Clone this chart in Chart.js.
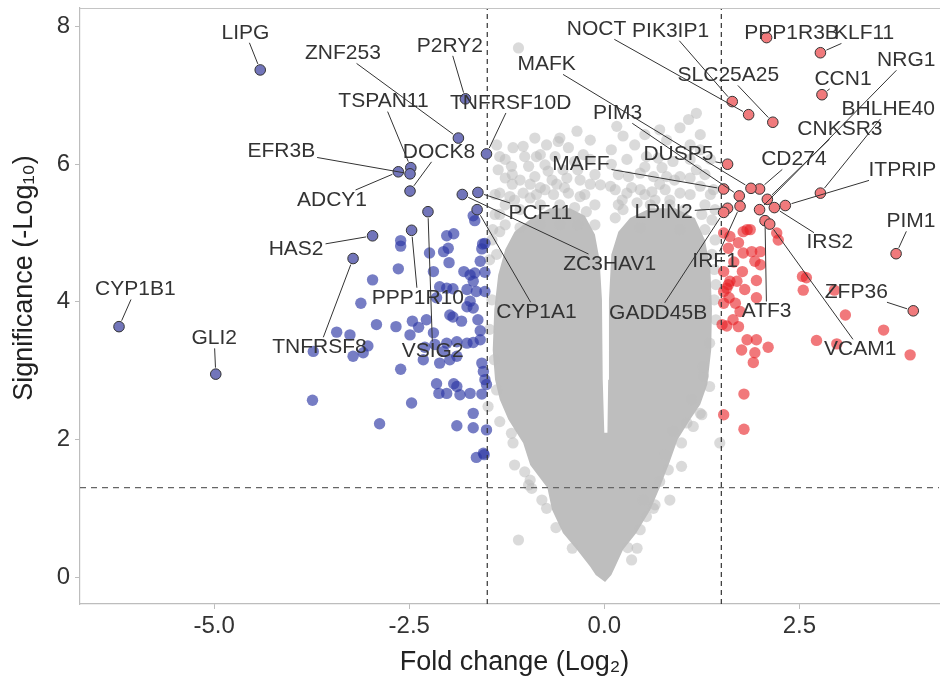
<!DOCTYPE html>
<html>
<head>
<meta charset="utf-8">
<script src="https://cdn.jsdelivr.net/npm/chart.js@4.4.1/dist/chart.umd.min.js"></script>
<style>
  html, body { margin: 0; padding: 0; background: #fff; }
  canvas { display: block; }
</style>
</head>
<body>
<canvas id="volcano" width="940" height="688"></canvas>
<script>
// axis setup
var xRange = [-6.72, 4.29];
var yRange = [-0.39, 8.27];
var xTicks = [-5, -2.5, 0, 2.5];
var yTicks = [0, 2, 4, 6, 8];
var fcCut = 1.5;
var sigCut = 1.3;
var xTitle = 'Fold change (Log\u2082)';
var yTitle = 'Significance (-Log\u2081\u2080)';

// labelled genes
var geneNames = ['LIPG','ZNF253','P2RY2','TSPAN11','EFR3B','ADCY1','DOCK8','TNFRSF10D','PCF11','ZC3HAV1',
  'CYP1A1','HAS2','TNFRSF8','PPP1R10','VSIG2','CYP1B1','GLI2',
  'NOCT','PIK3IP1','PPP1R3B','KLF11','SLC25A25','CCN1','NRG1','BHLHE40','CNKSR3','CD274','ITPRIP',
  'DUSP5','MAFK','PIM3','MAFF','LPIN2','IRF1','GADD45B','ATF3','IRS2','VCAM1','PIM1','ZFP36'];
var geneFC = [-4.41,-1.87,-1.78,-2.48,-2.49,-2.64,-2.49,-1.51,-1.62,-1.82,
  -1.63,-2.97,-3.22,-2.47,-2.26,-6.22,-4.98,
  1.85,1.64,2.08,2.77,2.16,2.79,1.99,2.77,2.09,1.99,2.32,
  1.58,1.88,1.73,1.53,1.58,1.74,1.53,2.06,2.18,2.12,3.74,3.96];
var geneSig = [7.37,6.38,6.95,5.95,5.86,5.89,5.61,6.15,5.59,5.56,
  5.34,4.96,4.63,5.04,5.31,3.64,2.95,
  6.72,6.91,7.84,7.62,6.61,7.01,5.34,5.58,5.49,5.64,5.40,
  6.00,5.65,5.54,5.64,5.36,5.39,5.30,5.18,5.37,5.13,4.70,3.87];
// where each name sits (repelled text)
var labelFC = [-4.60,-3.35,-1.98,-2.83,-4.14,-3.49,-2.12,-1.20,-0.82,0.07,
  -0.87,-3.95,-3.65,-2.39,-2.20,-6.01,-5.00,
  -0.10,0.85,2.40,3.33,1.59,3.06,3.87,3.64,3.02,2.43,3.82,
  0.95,-0.74,0.17,-0.30,0.76,1.42,0.69,2.08,2.89,3.28,3.93,3.23];
var labelSig = [7.91,7.61,7.72,6.91,6.19,5.48,6.18,6.89,5.29,4.55,
  3.85,4.77,3.34,4.06,3.28,4.18,3.47,
  7.96,7.94,7.90,7.90,7.29,7.24,7.51,6.80,6.51,6.07,5.91,
  6.14,7.45,6.74,6.00,5.30,4.59,3.84,3.86,4.86,3.31,5.17,4.14];

// other down-regulated genes
var downFC = [-2.61,-2.61,-2.02,-1.93,-2.06,-2.00,-2.24,-1.56,-1.53,-1.57,-1.59,-1.99,-2.64,-2.19,-1.80,-1.72,-1.66,-1.68,-1.53,-2.97,
  -2.11,-2.02,-1.94,-1.76,-1.64,-1.53,-3.12,-2.15,-1.72,-1.76,-1.68,-1.98,-1.94,-1.83,-1.62,-2.92,-2.67,-2.46,-2.28,-2.38,
  -2.49,-2.19,-1.59,-3.43,-3.26,-3.03,-3.73,-3.22,-3.09,-2.30,-2.17,-2.06,-2.02,-1.89,-1.76,-1.68,-1.59,-2.32,-2.11,-1.98,
  -1.89,-1.57,-1.55,-1.53,-2.61,-2.15,-1.93,-1.89,-2.12,-2.02,-1.85,-1.72,-1.57,-1.51,-3.74,-2.47,-1.68,-2.88,-1.89,-1.68,
  -1.51,-1.55,-1.64,-1.68,-1.66,-1.54];
var downSig = [4.89,4.81,4.96,4.99,4.73,4.78,4.71,4.84,4.85,4.77,4.59,4.57,4.48,4.44,4.44,4.39,4.42,4.30,4.43,4.32,
  4.22,4.20,4.19,4.18,4.15,4.15,3.98,4.06,4.01,3.93,3.91,3.81,3.78,3.72,3.74,3.67,3.64,3.72,3.74,3.63,
  3.52,3.55,3.58,3.56,3.52,3.36,3.28,3.21,3.26,3.34,3.38,3.28,3.40,3.42,3.40,3.41,3.45,3.16,3.11,3.16,
  3.21,3.11,2.99,2.87,3.02,2.81,2.81,2.77,2.67,2.67,2.65,2.67,2.66,2.80,2.57,2.53,2.38,2.23,2.20,2.17,
  2.14,1.80,1.74,5.25,5.18,1.78];

// other up-regulated genes
var upFC = [1.61,1.72,1.78,1.87,1.59,1.78,1.89,2.00,1.93,2.00,2.23,1.53,1.61,1.70,1.57,1.53,1.80,1.95,1.95,1.68,
  1.74,1.65,1.57,1.72,1.53,1.51,1.83,1.95,2.10,1.76,1.93,1.91,2.54,2.59,2.55,3.09,2.72,2.98,3.58,3.92,
  1.79,1.53,1.79,2.95,2.21,1.83,1.53,1.66,1.77,1.60,1.59];
var upSig = [4.95,4.86,5.02,5.05,4.78,4.71,4.73,4.73,4.59,4.54,4.90,4.44,4.30,4.30,4.20,4.15,4.18,4.31,4.06,3.98,
  3.86,3.74,3.65,3.64,3.98,3.67,3.45,3.45,3.34,3.30,3.26,3.12,4.37,4.35,4.17,3.81,3.44,3.39,3.59,3.23,
  2.66,2.36,2.15,4.17,5.00,5.05,5.00,4.58,4.44,4.06,4.25];

// not significant: sparse points around the edge of the cloud
var nsFC = [-1.10,-0.35,-0.57,-0.89,0.24,0.16,1.18,1.08,0.97,0.71,-1.17,-1.04,-0.74,-0.46,-1.38,-1.34,-1.02,-0.87,-1.19,-0.97,
  -0.76,-0.53,-0.31,-1.27,-1.08,-0.89,-0.67,-0.48,0.29,0.54,0.69,0.88,0.31,0.46,0.63,0.80,0.97,1.18,1.36,0.29,
  0.46,1.40,1.23,0.24,0.42,-1.34,-1.21,-1.04,-0.87,-0.65,-0.46,-0.31,-0.23,-1.40,-1.27,-0.12,0.14,0.84,1.10,1.29,
  1.38,1.42,-1.44,-1.47,-1.10,0.84,0.99,0.99,1.25,1.48,0.54,0.63,0.35,0.42,0.71,-1.15,-1.02,-0.93,-0.74,-0.97,
  1.14,0.88,0.78,1.06,-1.49,-1.34,-1.17,-1.19,-0.95,0.50,1.35,1.27,1.23,1.12,1.27,1.35,1.41,1.43,1.41,-1.44,
  -1.47,-1.41,-1.38,-0.80,-0.62,-0.41,0.65,0.46,0.30,0.82,
  -1.27,-1.08,-0.82,-0.57,-0.38,-0.12,-0.82,-0.61,-0.18,-1.18,-0.18,-0.63,-0.38,-1.36,-0.18,-1.34,-1.38,
  0.14,0.61,0.78,0.97,0.65,0.18,1.23,1.10,0.39,0.09,0.71,1.42,1.38,1.43,-0.05,0.08,
  -1.34,-1.15,-0.95,-0.76,-0.51,-0.34,-0.12,-0.25,-0.72,-0.95,-1.18,-1.27,-0.82,-0.59,-0.27,-1.40,-1.43,-1.08,-0.34,-0.57,-0.82,
  0.23,0.52,0.71,0.90,1.10,1.29,1.36,1.25,1.03,0.84,0.59,0.35,0.52,0.74,1.10,1.23,0.80,0.52,0.09,0.18,0.46,1.29,0.97];
var nsSig = [7.69,6.48,6.38,6.38,6.41,6.55,6.74,6.65,6.53,6.50,6.24,6.26,6.28,6.24,6.28,6.11,6.11,6.11,5.97,5.97,
  5.99,5.92,5.77,5.80,5.77,5.82,5.77,5.80,6.07,6.11,6.09,6.04,5.82,5.87,5.82,5.82,5.82,5.92,6.07,5.58,
  5.63,5.63,5.68,5.34,5.44,5.58,5.53,5.58,5.56,5.56,5.58,5.53,5.31,5.27,5.12,5.12,5.22,5.48,5.56,5.41,
  5.19,4.90,4.90,4.61,0.54,1.12,1.61,1.95,2.36,1.95,0.88,1.00,0.25,0.42,1.39,1.63,1.53,1.29,1.00,1.34,
  2.19,2.12,1.78,2.24,2.48,2.26,1.95,2.09,1.41,1.12,2.77,2.92,2.38,2.58,3.06,3.40,4.03,3.74,4.47,4.03,
  3.60,3.16,2.72,1.12,0.72,0.42,1.05,0.69,0.43,1.56,
  5.41,5.34,5.41,5.41,5.37,5.41,5.66,5.71,5.71,5.71,6.07,6.11,6.04,5.92,6.35,5.02,4.69,
  5.63,5.60,5.63,5.58,5.48,5.85,6.21,6.28,6.28,6.21,5.27,5.34,4.69,4.25,5.70,5.68,
  5.27,5.48,5.51,5.63,5.66,5.92,5.85,5.56,5.90,5.71,5.85,6.07,6.14,6.33,6.14,5.56,5.05,5.08,5.12,5.12,5.12,
  5.48,5.56,5.71,5.77,5.80,5.85,5.56,5.27,5.34,5.41,5.41,5.66,5.96,5.95,6.07,6.43,6.35,6.43,6.00,5.41,5.08,5.05,5.05];

// not significant: outline of the solid core of the cloud (thousands of overlapping genes)
var coreFC = [0.01,-0.11,-0.18,-0.35,-0.53,-0.67,-0.73,-0.95,-1.04,-1.23,-1.34,-1.40,-1.43,-1.41,-1.36,-1.27,-1.15,-0.95,-0.70,-0.44,
  -0.25,-0.12,-0.06,-0.03,-0.02,0.00,0.04,0.05,0.06,0.09,0.18,0.33,0.59,0.91,1.16,1.29,1.36,1.38,1.37,1.32,
  1.23,1.10,0.94,0.84,0.71,0.59,0.41,0.24,0.14,0.09,0.01];
var coreSig = [-0.07,0.03,0.15,0.40,0.64,0.98,1.30,1.63,1.95,2.29,2.58,2.87,3.30,3.89,4.39,4.76,5.02,5.20,5.36,5.36,
  5.25,4.98,4.61,4.03,2.87,2.10,2.10,2.87,4.03,4.69,5.02,5.22,5.36,5.36,5.22,4.90,4.47,3.89,3.30,2.80,
  2.51,2.29,2.00,1.68,1.30,0.98,0.64,0.40,0.15,0.03,-0.07];

function pts(xs, ys) { return xs.map(function (v, i) { return { x: v, y: ys[i] }; }); }

var FONT = '"Liberation Sans", Arial, Helvetica, sans-serif';

var geneLabels = {
  id: 'geneLabels',
  afterDatasetsDraw: function (chart) {
    var ctx = chart.ctx, xs = chart.scales.x, ys = chart.scales.y;
    ctx.save();
    ctx.font = '21px ' + FONT;
    ctx.textAlign = 'center';
    ctx.textBaseline = 'middle';
    ctx.strokeStyle = '#333';
    ctx.lineWidth = 1;
    geneNames.forEach(function (name, i) {
      var px = xs.getPixelForValue(geneFC[i]), py = ys.getPixelForValue(geneSig[i]);
      var lx = xs.getPixelForValue(labelFC[i]), ly = ys.getPixelForValue(labelSig[i]);
      var hw = ctx.measureText(name).width / 2 + 2, hh = 10;
      var dx = px - lx, dy = py - ly, d = Math.hypot(dx, dy);
      var t = Math.min(dx ? hw / Math.abs(dx) : Infinity, dy ? hh / Math.abs(dy) : Infinity);
      if (t >= 1 || d === 0) return;
      var sx = lx + dx * t, sy = ly + dy * t;
      var ex = px - dx / d * 6.5, ey = py - dy / d * 6.5;
      if ((ex - sx) * dx + (ey - sy) * dy < 2) return;
      ctx.beginPath();
      ctx.moveTo(sx, sy);
      ctx.lineTo(ex, ey);
      ctx.stroke();
    });
    ctx.fillStyle = '#333';
    geneNames.forEach(function (name, i) {
      ctx.fillText(name, xs.getPixelForValue(labelFC[i]), ys.getPixelForValue(labelSig[i]));
    });
    ctx.restore();
  }
};

var frameAndTitles = {
  id: 'frameAndTitles',
  afterDraw: function (chart) {
    var ctx = chart.ctx, a = chart.chartArea;
    ctx.save();
    ctx.strokeStyle = '#c4c4c4';
    ctx.lineWidth = 1;
    ctx.beginPath();
    ctx.moveTo(a.left, a.top + 0.5);
    ctx.lineTo(a.right + 1, a.top + 0.5);
    ctx.stroke();
    ctx.fillStyle = '#222';
    ctx.font = '27px ' + FONT;
    ctx.textAlign = 'center';
    ctx.textBaseline = 'middle';
    ctx.fillText(xTitle, (a.left + a.right) / 2 + 5, a.bottom + 59);
    ctx.translate(25, (a.top + a.bottom) / 2 - 28);
    ctx.rotate(-Math.PI / 2);
    ctx.fillText(yTitle, 0, 0);
    ctx.restore();
  }
};

function noPad(s) { s.paddingTop = 0; s.paddingBottom = 0; s.paddingLeft = 0; s.paddingRight = 0; }

var ctx = document.getElementById('volcano').getContext('2d');
new Chart(ctx, {
  type: 'scatter',
  data: {
    datasets: [
      {
        label: 'core',
        data: pts(coreFC, coreSig),
        showLine: true,
        fill: 'shape',
        tension: 0,
        borderWidth: 0,
        borderColor: 'rgba(0,0,0,0)',
        backgroundColor: 'rgb(190,190,190)',
        pointRadius: 0,
        order: 6
      },
      {
        label: 'NS',
        data: pts(nsFC, nsSig),
        pointRadius: 5.6,
        borderWidth: 0,
        backgroundColor: 'rgba(189,189,189,0.56)',
        order: 5
      },
      {
        label: 'Down',
        data: pts(downFC, downSig),
        pointRadius: 5.7,
        borderWidth: 0,
        backgroundColor: 'rgba(45,55,165,0.65)',
        order: 4
      },
      {
        label: 'Up',
        data: pts(upFC, upSig),
        pointRadius: 5.7,
        borderWidth: 0,
        backgroundColor: 'rgba(232,30,35,0.6)',
        order: 4
      },
      {
        label: 'fc-',
        data: [{ x: -fcCut, y: yRange[0] }, { x: -fcCut, y: yRange[1] }],
        showLine: true, pointRadius: 0, borderColor: '#333', borderWidth: 1.2, borderDash: [5, 4],
        order: 3
      },
      {
        label: 'fc+',
        data: [{ x: fcCut, y: yRange[0] }, { x: fcCut, y: yRange[1] }],
        showLine: true, pointRadius: 0, borderColor: '#333', borderWidth: 1.2, borderDash: [5, 4],
        order: 3
      },
      {
        label: 'p',
        data: [{ x: xRange[0], y: sigCut }, { x: xRange[1], y: sigCut }],
        showLine: true, pointRadius: 0, borderColor: '#666', borderWidth: 1.2, borderDash: [6, 5],
        order: 3
      },
      {
        label: 'labelled',
        data: pts(geneFC, geneSig),
        pointRadius: 5.3,
        borderWidth: 1,
        borderColor: '#333',
        backgroundColor: geneFC.map(function (v) { return v < 0 ? 'rgb(114,117,186)' : 'rgb(240,122,124)'; }),
        order: 1
      }
    ]
  },
  options: {
    responsive: false,
    animation: false,
    events: [],
    layout: { autoPadding: false, padding: { top: 8, right: 1, left: 0, bottom: 0 } },
    plugins: { legend: { display: false }, tooltip: { enabled: false } },
    scales: {
      x: {
        type: 'linear',
        min: xRange[0],
        max: xRange[1],
        afterBuildTicks: function (s) { s.ticks = xTicks.map(function (v) { return { value: v }; }); },
        afterFit: function (s) { s.height = 84; noPad(s); },
        ticks: {
          color: '#333',
          padding: 3,
          font: { family: FONT, size: 24 },
          callback: function (v) { return Number(v).toFixed(1); }
        },
        grid: { display: true, drawOnChartArea: false, drawTicks: true, tickLength: 5, color: '#bdbdbd' },
        border: { display: true, color: '#bdbdbd', width: 1.2 }
      },
      y: {
        type: 'linear',
        min: yRange[0],
        max: yRange[1],
        afterBuildTicks: function (s) { s.ticks = yTicks.map(function (v) { return { value: v }; }); },
        afterFit: function (s) { s.width = 80; noPad(s); },
        ticks: {
          color: '#333',
          padding: 5,
          font: { family: FONT, size: 24 },
          callback: function (v) { return String(v); }
        },
        grid: { display: true, drawOnChartArea: false, drawTicks: true, tickLength: 5, color: '#bdbdbd' },
        border: { display: true, color: '#bdbdbd', width: 1.2 }
      }
    }
  },
  plugins: [geneLabels, frameAndTitles]
});
</script>
</body>
</html>
